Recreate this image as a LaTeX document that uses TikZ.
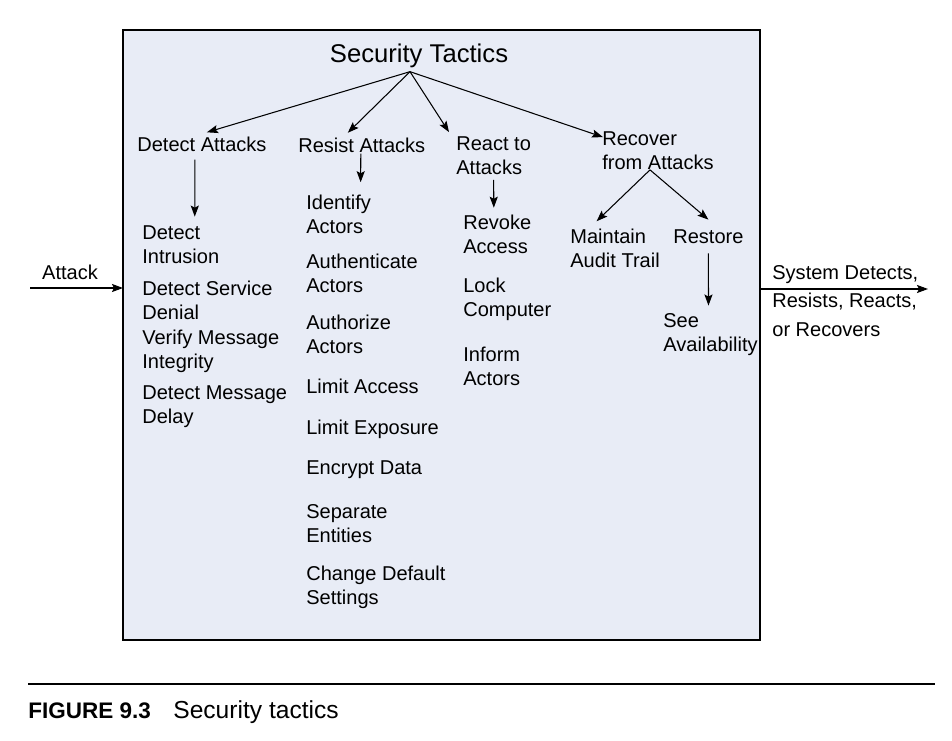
\documentclass[tikz,border=0pt]{standalone}
\usepackage{fontspec}
\setmainfont{Liberation Sans}
\usepackage{tikz}
\usetikzlibrary{arrows.meta,positioning,calc}
\definecolor{panel}{RGB}{232,236,246}

\begin{document}
\begin{tikzpicture}[
	x=0.02cm, y=-0.02cm,
	txt/.style={inner sep=0pt, anchor=west, align=left, font=\fontsize{11.4}{13.7}\selectfont},
	arr/.style={-{Stealth[length=6.3pt,width=4.6pt,inset=1.2pt]}, line width=0.6pt}
	]
	
	\useasboundingbox (0,0) rectangle (952,740);
	
	% panel
	\coordinate (boxnw) at (123,30);
	\coordinate (boxse) at (760,640);
	\draw[line width=0.6pt, fill=panel] (boxnw) rectangle (boxse);
	
	\node[inner sep=0pt, anchor=base, font=\fontsize{14.6}{17}\selectfont] (title) at (419,63) {Security Tactics};
	\coordinate (hub) at ($(title.south)+(-9,3)$);
	
	% tactic groups
	\node[txt] (detect)  at (137,144)   {Detect Attacks};
	\node[txt] (resist)  at (298,145)   {Resist Attacks};
	\node[txt] (react)   at (456,155.5) {React to\\Attacks};
	\node[txt] (recover) at (602,150.5) {Recover\\from Attacks};
	
	\draw[arr] (hub) -- ($(detect.north)+(5,-4)$);
	\draw[arr] (hub) -- ($(resist.north)+(-14,-4.5)$);
	\draw[arr] (hub) -- ($(react.north west)+(-7,-4)$);
	\draw[arr] (hub) -- ($(recover.north west)+(1,6)$);
	
	% detect
	\node[txt] (dint) at (142,245) {Detect\\Intrusion};
	\node[txt] (dsvc) at (142,300) {Detect Service\\Denial};
	\node[txt] (vmsg) at (142,351) {Verify Message\\Integrity};
	\node[txt] (dmsg) at (142,407) {Detect Message\\Delay};
	\draw[arr] ($(detect.south)+(-7,8)$) -- ($(dint.north)+(14,-9)$);
	
	% resist
	\node[txt] (idact)  at (306,214) {Identify\\Actors};
	\node[txt] (authn)  at (306,273) {Authenticate\\Actors};
	\node[txt] (authz)  at (306,334) {Authorize\\Actors};
	\node[txt] (limacc) at (306,386) {Limit Access};
	\node[txt] (limexp) at (306,429) {Limit Exposure};
	\node[txt] (encr)   at (306,470) {Encrypt Data};
	\node[txt] (sepent) at (306,524) {Separate\\Entities};
	\node[txt] (chdef)  at (306,587) {Change Default\\Settings};
	\draw[arr] ($(resist.south)+(-1,1)$) -- ($(idact.north)+(22,-12)$);
	
	% react
	\node[txt] (revoke) at (463,234.5) {Revoke\\Access};
	\node[txt] (lock)   at (463,299)   {Lock\\Computer};
	\node[txt] (inform) at (463,366)   {Inform\\Actors};
	\draw[arr] ($(react.south)+(0,5)$) -- ($(revoke.north)+(-3.5,-7)$);
	
	% recover
	\coordinate (rhub) at ($(recover.south)+(-8,0)$);
	\node[txt] (audit)   at (570,248) {Maintain\\Audit Trail};
	\node[txt] (restore) at (673,237) {Restore};
	\node[txt] (avail)   at (663,335) {See\\Availability};
	\draw[arr] (rhub) -- ($(audit.north)+(-18.5,-7)$);
	\draw[arr] (rhub) -- ($(restore.north)+(0,-10)$);
	\draw[arr] ($(restore.south)+(0,9)$) -- ($(avail.north)+(-2,-8)$);
	
	% input and output
	\coordinate (attk) at (30,288);
	\coordinate (out) at (928,289);
	\draw[arr] (attk) -- (attk -| boxnw);
	\draw[arr] (out -| boxse) -- (out);
	\node[txt, anchor=base] (attklbl) at (70,279) {Attack};
	\node[txt, font=\fontsize{11.4}{16.3}\selectfont] (outlbl) at (772,301) {System Detects,\\Resists, Reacts,\\or Recovers};
	
	% caption
	\draw[line width=0.8pt] (28,684) -- (935,684);
	\node[inner sep=0pt, anchor=base west, font=\fontsize{12.8}{15}\selectfont\bfseries] (fig) at (28,718) {FIGURE 9.3};
	\node[inner sep=0pt, anchor=base west, font=\fontsize{14}{16}\selectfont] (cap) at (173,718) {Security tactics};
	
\end{tikzpicture}
\end{document}
